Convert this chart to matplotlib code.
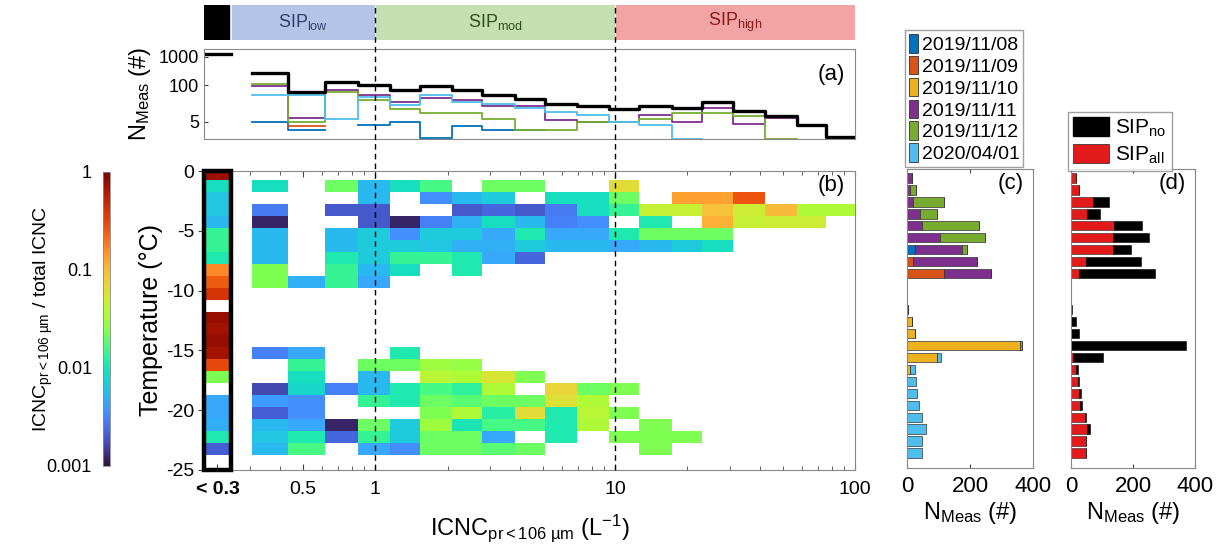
import numpy as np
import matplotlib
matplotlib.use("Agg")
import matplotlib.pyplot as plt
import matplotlib.transforms as mtransforms
from matplotlib.colors import LogNorm
from matplotlib.patches import Patch, Rectangle
from matplotlib.lines import Line2D
from matplotlib.cm import ScalarMappable
from matplotlib.ticker import FixedLocator, NullFormatter, NullLocator, LogLocator

plt.rcParams['font.family'] = ['Liberation Sans', 'DejaVu Sans']
plt.rcParams['mathtext.fontset'] = 'custom'
plt.rcParams['mathtext.rm'] = 'Liberation Sans'
plt.rcParams['mathtext.it'] = 'Liberation Sans:italic'
plt.rcParams['mathtext.bf'] = 'Liberation Sans:bold'

nan = np.nan

# ---------------------------------------------------------------- data
# ICNC (pr < 106 um) bin edges, L^-1
icnc_edges = [0.307, 0.434, 0.619, 0.849, 1.155, 1.54, 2.09, 2.79, 3.83, 5.11,
              6.94, 9.43, 12.6, 17.3, 23.1, 31.0, 42.1, 57.2, 76.0, 100.0]
lt03_edges = [0.193, 0.25]          # the "< 0.3" column
icnc_min = 0.193

# SIP regimes along the ICNC axis
sip_edges = [0.25, 1.0, 10.0, 100.0]
sip_names = [r'SIP$_{\rm low}$', r'SIP$_{\rm mod}$', r'SIP$_{\rm high}$']

# temperature rows (deg C), top edge of first row down to bottom edge of last row
temp_edges = np.arange(0.25, -25.5, -1.0)
temp_bars = temp_edges[1:25]        # bar positions for panels (c) and (d)

# number of measurements per ICNC bin (panel a)
n_lt03 = 1290
n_total = [267, 56, 128, 102, 65, 93, 68, 45, 33, 21.7, 17.5, 14.5, 18, 15.7, 25, 11.6, 8, 3.7, 1.44]
n_by_day = {
    '2019/11/08': [4.9, 2.5, nan, 3.7, 4.9, 1.3, 3.5, 2.5, 2.5, nan, nan, nan, nan, nan, nan, nan, nan, nan, nan],
    '2019/11/09': [nan, 3.5, nan, nan, nan, nan, nan, nan, nan, nan, nan, nan, nan, nan, nan, nan, nan, nan, nan],
    '2019/11/11': [94, 6.8, 65, 43, 26, 35, 30, 18, 18, 5.6, 4.9, 4.9, 8.4, 4.9, 15.3, 4.3, 6.8, nan, nan],
    '2019/11/12': [110, 4.9, 56, 28.6, 14.5, 10.5, 10.5, 6.1, 2.5, 2.5, 4.9, 4.9, 6.1, 10.5, 10.5, 8.0, 1.26, nan, nan],
    '2020/04/01': [43, 43, 6.4, 37.6, 19, 43, 26, 21.7, 15.3, 11, 8.4, 4.9, 3.7, 1.26, nan, nan, nan, nan, nan],
}

# ICNC(pr<106um) / total ICNC, warm rows (0.75 .. 9.75 C below zero)
ratio_warm = [
    [0.0091, nan, 0.021, 0.0056, 0.0091, 0.016, nan, 0.021, 0.021, nan, nan, 0.063, nan, nan, nan, nan, nan, nan, nan],
    [nan, nan, nan, 0.0056, nan, 0.0035, 0.0056, 0.0069, nan, 0.0091, 0.0091, 0.021, nan, 0.13, 0.13, 0.27, nan, nan, nan],
    [0.0028, nan, 0.002, 0.002, nan, nan, 0.002, 0.0023, 0.002, 0.0028, 0.0091, 0.014, 0.045, 0.045, 0.09, 0.05, 0.1, 0.036, 0.036],
    [0.0012, nan, nan, 0.002, 0.0012, 0.003, 0.005, 0.0091, 0.0056, 0.003, 0.0035, nan, 0.011, nan, 0.11, 0.045, 0.05, 0.05, nan],
    [0.0056, nan, 0.0056, 0.0069, 0.0035, 0.0069, 0.0069, 0.0046, 0.011, 0.0046, 0.0046, 0.011, 0.021, 0.021, 0.021, nan, nan, nan, nan],
    [0.0056, nan, 0.0056, 0.0069, 0.0069, 0.0063, 0.005, 0.005, 0.0069, 0.0056, 0.0056, 0.0046, 0.0056, 0.0069, 0.0091, nan, nan, nan, nan],
    [0.0056, nan, 0.011, 0.0069, 0.014, 0.014, 0.011, 0.0046, 0.0023, nan, nan, nan, nan, nan, nan, nan, nan, nan, nan],
    [0.024, nan, 0.014, 0.0056, 0.0091, nan, 0.011, nan, nan, nan, nan, nan, nan, nan, nan, nan, nan, nan, nan],
    [0.024, 0.005, 0.014, 0.0046, nan, nan, nan, nan, nan, nan, nan, nan, nan, nan, nan, nan, nan, nan, nan],
]
# cold rows (14.75 .. 23.75 C below zero)
ratio_cold = [
    [0.003, 0.0046, nan, nan, 0.011, nan, nan, nan, nan, nan, nan, nan, nan, nan, nan, nan, nan, nan, nan],
    [nan, 0.014, nan, 0.021, 0.021, 0.03, 0.028, nan, nan, nan, nan, nan, nan, nan, nan, nan, nan, nan, nan],
    [nan, 0.0091, nan, 0.0056, nan, 0.04, 0.036, 0.055, 0.024, nan, nan, nan, nan, nan, nan, nan, nan, nan, nan],
    [0.0017, 0.008, 0.003, 0.0056, 0.011, 0.016, 0.013, 0.036, nan, 0.07, 0.021, 0.024, nan, nan, nan, nan, nan, nan, nan],
    [0.004, 0.0035, nan, 0.014, 0.011, 0.021, 0.018, 0.021, 0.021, 0.06, 0.036, nan, nan, nan, nan, nan, nan, nan, nan],
    [0.0021, 0.0035, nan, nan, nan, 0.024, 0.036, 0.012, 0.065, 0.011, 0.04, 0.024, nan, nan, nan, nan, nan, nan, nan],
    [0.0056, 0.0046, 0.0012, 0.021, 0.0069, 0.03, 0.01, 0.016, 0.016, 0.011, 0.036, nan, 0.024, nan, nan, nan, nan, nan, nan],
    [0.0063, 0.011, 0.0023, 0.014, 0.0069, 0.021, 0.021, 0.0046, nan, 0.011, nan, 0.024, 0.024, 0.024, nan, nan, nan, nan, nan],
    [0.0056, 0.016, nan, 0.0046, 0.0035, 0.021, 0.021, 0.018, 0.021, nan, nan, nan, 0.024, nan, nan, nan, nan, nan, nan],
]
# "< 0.3" column, from the 0 C row down to the last row
ratio_lt03 = [0.76, 0.0091, 0.0063, 0.0063, 0.0056, 0.014, 0.014, 0.011, 0.16, 0.25, 0.4, nan,
              0.78, 0.72, 0.8, 0.7, 0.3, 0.024, nan, 0.0046, 0.0046, 0.005, 0.011, 0.0021, nan]

# measurements per temperature row and day (panel c)
days = ['2019/11/08', '2019/11/09', '2019/11/10', '2019/11/11', '2019/11/12', '2020/04/01']
day_colors = ['#0072BD', '#D95319', '#EDB120', '#7E2F8E', '#77AC30', '#4DBEEE']
counts_by_day = {
    '2019/11/08': [0, 0, 0, 0, 0, 0, 26, 0, 0, 0, 0, 0, 0, 0, 0, 0, 0, 0, 0, 0, 0, 0, 0, 0],
    '2019/11/09': [0, 0, 0, 0, 0, 0, 0, 19, 117, 0, 0, 0, 0, 0, 0, 0, 0, 0, 0, 0, 0, 0, 0, 0],
    '2019/11/10': [0, 0, 0, 0, 0, 0, 0, 0, 0, 0, 0, 0, 16, 26, 360, 95, 8, 0, 0, 0, 0, 0, 0, 0],
    '2019/11/11': [16, 10.6, 19, 40, 48, 106, 149, 204, 150, 0, 0, 2, 0, 0, 0, 0, 0, 0, 0, 0, 0, 0, 0, 0],
    '2019/11/12': [0, 19, 100, 56, 180, 143, 16, 0, 0, 0, 0, 0, 0, 0, 5, 0, 0, 0, 0, 0, 0, 0, 0, 0],
    '2020/04/01': [0, 0, 0, 0, 0, 0, 0, 0, 0, 0, 0, 0, 0, 0, 0, 12, 16, 27.5, 33, 37, 49, 61, 49, 49],
}

# measurements per temperature row with / without SIP (panel d)
counts_sip_all = [16, 27, 70, 51, 140, 137, 134, 48, 27, 0, 0, 0, 0, 0, 0, 5, 16, 22, 27, 30, 46, 51, 48, 48]
counts_sip_no = [0, 0, 51, 43, 90, 115, 59, 178, 244, 0, 0, 2, 16, 25, 370, 98, 6, 5, 6, 7, 2, 11, 0, 0]

# ---------------------------------------------------------------- figure
W, H = 1222, 554
fig = plt.figure(figsize=(W / 100, H / 100), dpi=100)


def box(x0, y0, x1, y1):
    return [x0 / W, 1 - y1 / H, (x1 - x0) / W, (y1 - y0) / H]


frame_col = '#444444'
cmap = plt.get_cmap('turbo')
norm = LogNorm(vmin=1e-3, vmax=1)

# regime strip
ax_s = fig.add_axes(box(204, 5, 855, 40))
ax_s.set_xscale('log')
ax_s.set_xlim(icnc_min, 100)
ax_s.set_ylim(0, 1)
ax_s.axis('off')
ax_s.axvspan(lt03_edges[0], lt03_edges[1] * 0.985, color='black')
strip_fc = ['#b4c4e6', '#c4dfb2', '#f2a3a3']
strip_tc = ['#2e3e6e', '#2f5020', '#8a1c1c']
for i in range(3):
    lo, hi = sip_edges[i], sip_edges[i + 1]
    ax_s.axvspan(lo * 1.01, hi * 0.99, color=strip_fc[i])
    ax_s.text(np.sqrt(lo * hi), 0.5, sip_names[i], color=strip_tc[i],
              ha='center', va='center', fontsize=13)

# panel (a): number of measurements
ax_a = fig.add_axes(box(204, 49, 855, 139))
ax_a.set_xscale('log')
ax_a.set_yscale('log')
ax_a.set_xlim(icnc_min, 100)
ax_a.set_ylim(1.22, 1890)
xs = np.repeat(icnc_edges, 2)[1:-1]
for day, col in zip(days, day_colors):
    if day in n_by_day:
        ax_a.plot(xs, np.repeat(n_by_day[day], 2), color=col, lw=1.3)
ax_a.plot(xs, np.repeat(n_total, 2), color='black', lw=2.4)
ax_a.plot(lt03_edges, [n_lt03, n_lt03], color='black', lw=2.4)
ax_a.set_yticks([5, 100, 1000])
ax_a.set_yticklabels(['5', '100', '1000'])
ax_a.yaxis.set_minor_locator(NullLocator())
ax_a.xaxis.set_major_locator(LogLocator(base=10, subs=(1.0,)))
ax_a.xaxis.set_minor_locator(LogLocator(base=10, subs=np.arange(2, 10)))
ax_a.xaxis.set_major_formatter(NullFormatter())
ax_a.xaxis.set_minor_formatter(NullFormatter())
ax_a.tick_params(which='both', direction='in', labelsize=13, color=frame_col, length=3)
ax_a.tick_params(axis='x', which='both', length=0)
for s in ax_a.spines.values():
    s.set_color('#888888')
ax_a.set_ylabel(r'N$_{\rm Meas}$ (#)', fontsize=17, labelpad=4)
ax_a.text(0.985, 0.72, '(a)', transform=ax_a.transAxes, ha='right', va='center', fontsize=16)

# panel (b): heat map
ax_b = fig.add_axes(box(204, 171, 855, 470))
ax_b.set_xscale('log')
grid = np.full((len(temp_edges) - 1, len(icnc_edges) - 1), np.nan)
grid[1:10] = ratio_warm
grid[15:24] = ratio_cold
ax_b.pcolormesh(icnc_edges, temp_edges, np.ma.masked_invalid(grid), cmap=cmap, norm=norm)
col_lt03 = np.array(ratio_lt03).reshape(-1, 1)
ax_b.pcolormesh(lt03_edges, temp_edges, np.ma.masked_invalid(col_lt03), cmap=cmap, norm=norm)
ax_b.add_patch(Rectangle((lt03_edges[0], -25), lt03_edges[1] - lt03_edges[0], 25,
                         fill=False, edgecolor='black', lw=3.2, zorder=5, clip_on=False))
ax_b.set_xlim(icnc_min, 100)
ax_b.set_ylim(-25, 0)
ax_b.set_yticks([0, -5, -10, -15, -20, -25])
ax_b.set_yticklabels(['0', '-5', '-10', '-15', '-20', '-25'])
ax_b.tick_params(axis='y', direction='out', length=4, labelsize=14, color=frame_col, pad=3)
lt03_mid = np.sqrt(lt03_edges[0] * lt03_edges[1])
ax_b.xaxis.set_major_locator(FixedLocator([lt03_mid, 0.5, 1, 10, 100]))
ax_b.set_xticklabels(['< 0.3', '0.5', '1', '10', '100'])
ax_b.get_xticklabels()[0].set_fontweight('bold')
ax_b.xaxis.set_minor_locator(FixedLocator([0.3, 0.4, 0.6, 0.7, 0.8, 0.9] + list(range(2, 10))
                                          + list(range(20, 100, 10))))
ax_b.xaxis.set_minor_formatter(NullFormatter())
ax_b.tick_params(axis='x', which='both', direction='in', top=True, labelsize=14,
                 color=frame_col, length=4, pad=8)
ax_b.tick_params(axis='x', which='minor', length=3)
ax_b.spines['left'].set_visible(False)
for s in ['top', 'right', 'bottom']:
    ax_b.spines[s].set_color('#888888')
ax_b.set_ylabel('Temperature (°C)', fontsize=18, labelpad=2)
ax_b.set_xlabel(r'ICNC$_{\rm pr<106\ µm}$ (L$^{-1}$)', fontsize=17, labelpad=10)
ax_b.text(0.985, 0.95, '(b)', transform=ax_b.transAxes, ha='right', va='center', fontsize=16)

# regime boundaries across strip, panel (a) and panel (b)
trans = mtransforms.blended_transform_factory(ax_b.transData, fig.transFigure)
for xv in [1, 10]:
    fig.add_artist(Line2D([xv, xv], [1 - 470 / H, 1 - 5 / H], transform=trans,
                          color='black', lw=1.0, ls=(0, (4, 3)), zorder=10))

# colour bar
cax = fig.add_axes(box(103, 172, 110, 466))
cb = fig.colorbar(ScalarMappable(norm=norm, cmap=cmap), cax=cax)
cb.set_ticks([1e-3, 1e-2, 1e-1, 1])
cb.set_ticklabels(['0.001', '0.01', '0.1', '1'])
cax.yaxis.set_minor_locator(NullLocator())
cax.yaxis.set_ticks_position('left')
cax.yaxis.set_label_position('left')
cax.tick_params(labelsize=13, length=0, pad=8)
cb.outline.set_edgecolor('#888888')
cb.outline.set_linewidth(0.6)
cb.set_label(r'ICNC$_{\rm pr<106\ µm}$ / total ICNC', fontsize=14, labelpad=-6)

# panel (c): measurements per day
ax_c = fig.add_axes(box(907, 169, 1033, 468))
left = np.zeros(len(temp_bars))
for day, col in zip(days, day_colors):
    vals = np.array(counts_by_day[day], dtype=float)
    ax_c.barh(temp_bars, vals, left=left, height=0.78, color=col,
              edgecolor='#333333', linewidth=0.5)
    left += vals
ax_c.set_xlim(0, 400)
ax_c.set_ylim(-25, 0)

# panel (d): measurements with / without SIP
ax_d = fig.add_axes(box(1071, 169, 1195, 468))
ax_d.barh(temp_bars, counts_sip_all, height=0.78, color='#e31a1c', edgecolor='#222222', linewidth=0.4)
ax_d.barh(temp_bars, counts_sip_no, left=counts_sip_all, height=0.78, color='black',
          edgecolor='black', linewidth=0.4)
ax_d.set_xlim(0, 400)
ax_d.set_ylim(-25, 0)

for ax, tag in [(ax_c, '(c)'), (ax_d, '(d)')]:
    ax.set_xticks([0, 200, 400])
    ax.set_yticks([])
    ax.tick_params(axis='x', direction='in', top=True, labelsize=16, length=3,
                   color=frame_col, pad=6)
    for s in ax.spines.values():
        s.set_color('#888888')
    ax.set_xlabel(r'N$_{\rm Meas}$ (#)', fontsize=17, labelpad=2)
    ax.text(0.93, 0.95, tag, transform=ax.transAxes, ha='right', va='center', fontsize=16)

# legends
day_handles = [Patch(facecolor=c, edgecolor='#333333', linewidth=0.6) for c in day_colors]
fig.legend(day_handles, days, loc='upper left', bbox_to_anchor=(905 / W, 1 - 30 / H),
           fontsize=14, frameon=True, fancybox=False, edgecolor='#888888',
           handlelength=0.45, handleheight=1.1, handletextpad=0.2, labelspacing=0.1,
           borderpad=0.2, borderaxespad=0)
sip_handles = [Patch(facecolor='black', edgecolor='black'),
               Patch(facecolor='#e31a1c', edgecolor='#222222', linewidth=0.5)]
fig.legend(sip_handles, [r'SIP$_{\rm no}$', r'SIP$_{\rm all}$'], loc='upper left',
           bbox_to_anchor=(1068 / W, 1 - 112 / H), fontsize=15, frameon=True, fancybox=False,
           edgecolor='#888888', handlelength=1.7, handleheight=1.0, handletextpad=0.3,
           labelspacing=0.25, borderpad=0.25, borderaxespad=0)

fig.savefig('out.png', dpi=100, facecolor='white')
